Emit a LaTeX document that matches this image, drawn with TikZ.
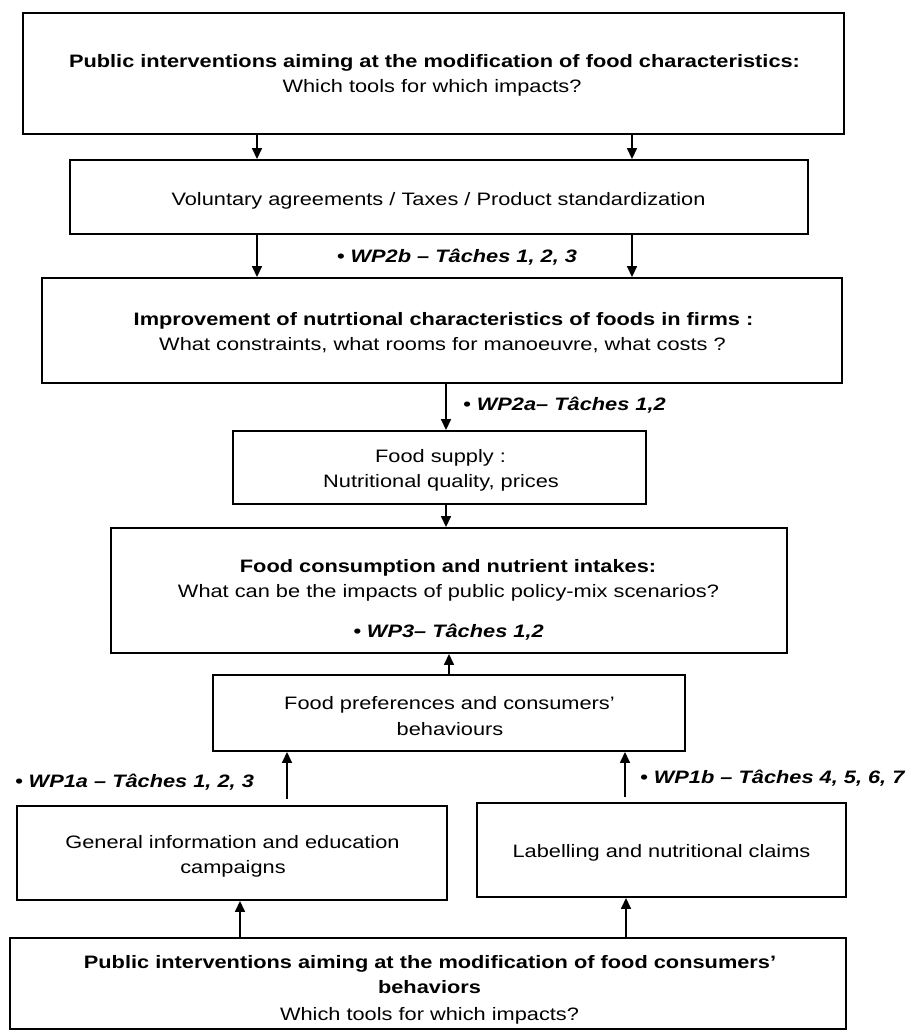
\documentclass[tikz,border=0pt]{standalone}
\usepackage{fontspec}
\setmainfont{Liberation Sans}[FakeStretch=1.21]
\usetikzlibrary{arrows.meta}
\begin{document}
\begin{tikzpicture}[x=1pt,y=-1pt,
  box/.style={draw, line width=1.9pt, inner sep=0pt},
  arr/.style={line width=1.6pt, -{Triangle[length=11pt,width=10pt]}},
  reg/.style={anchor=base, inner sep=0pt, font=\fontsize{18}{25}\selectfont},
  bld/.style={anchor=base, inner sep=0pt, font=\fontsize{18}{25}\selectfont\bfseries},
  lab/.style={anchor=base, inner sep=0pt, font=\fontsize{18}{25}\selectfont\bfseries\itshape}]
\useasboundingbox (0,0) rectangle (906,1031);
% boxes
\node[box, minimum width=821pt, minimum height=121pt] (b1) at (433.5,73.5) {};
\node[box, minimum width=738pt, minimum height=74pt]  (b2) at (439,197) {};
\node[box, minimum width=800pt, minimum height=105pt] (b3) at (442,330.5) {};
\node[box, minimum width=413pt, minimum height=73pt]  (b4) at (439.5,467.5) {};
\node[box, minimum width=676pt, minimum height=125pt] (b5) at (449,590.5) {};
\node[box, minimum width=472pt, minimum height=76pt]  (b6) at (449,713) {};
\node[box, minimum width=430pt, minimum height=94pt]  (b7) at (232,853) {};
\node[box, minimum width=369pt, minimum height=94pt]  (b8) at (661.5,850) {};
\node[box, minimum width=836pt, minimum height=91pt]  (b9) at (428,983.5) {};
% texts
\node[bld] (t1a) at (434.5,67) {Public interventions aiming at the modification of food characteristics:};
\node[reg] (t1b) at (432,92) {Which tools for which impacts?};
\node[reg] (t2a) at (438.5,205) {Voluntary agreements / Taxes / Product standardization};
\node[bld] (t3a) at (443.5,325) {Improvement of nutrtional characteristics of foods in firms :};
\node[reg] (t3b) at (442.5,350) {What constraints, what rooms for manoeuvre, what costs ?};
\node[reg] (t4a) at (440.5,462) {Food supply :};
\node[reg] (t4b) at (441,487) {Nutritional quality, prices};
\node[bld] (t5a) at (448,572) {Food consumption and nutrient intakes:};
\node[reg] (t5b) at (448.5,597) {What can be the impacts of public policy-mix scenarios?};
\node[lab] (t5c) at (448.5,637) {• WP3– Tâches 1,2};
\node[reg] (t6a) at (449.5,709) {Food preferences and consumers’};
\node[reg] (t6b) at (450,735) {behaviours};
\node[reg] (t7a) at (232.5,848) {General information and education};
\node[reg] (t7b) at (233,873) {campaigns};
\node[reg] (t8a) at (661.5,857) {Labelling and nutritional claims};
\node[bld] (t9a) at (430,968) {Public interventions aiming at the modification of food consumers’};
\node[bld] (t9b) at (429.5,993) {behaviors};
\node[reg] (t9c) at (429.5,1020) {Which tools for which impacts?};
% labels
\node[lab] (l1) at (457,262) {• WP2b – Tâches 1, 2, 3};
\node[lab] (l2) at (564.5,410) {• WP2a– Tâches 1,2};
\node[lab] (l4) at (134.5,787) {• WP1a – Tâches 1, 2, 3};
\node[lab, anchor=base west] (l5) at (640,783) {• WP1b – Tâches 4, 5, 6, 7};
% arrow columns
\coordinate (xa) at (257,0);
\coordinate (xb) at (632,0);
\coordinate (xc) at (446,0);
\coordinate (xd) at (449,0);
\coordinate (xe) at (287,0);
\coordinate (xf) at (625,0);
\coordinate (xg) at (240,0);
\coordinate (xh) at (626,0);
% connectors
\draw[arr] (b1.south -| xa) -- (b2.north -| xa);
\draw[arr] (b1.south -| xb) -- (b2.north -| xb);
\draw[arr] (b2.south -| xa) -- (b3.north -| xa);
\draw[arr] (b2.south -| xb) -- (b3.north -| xb);
\draw[arr] (b3.south -| xc) -- (b4.north -| xc);
\draw[arr] (b4.south -| xc) -- (b5.north -| xc);
\draw[arr] (b6.north -| xd) -- (b5.south -| xd);
\draw[arr, shorten <=6pt] (b7.north -| xe) -- (b6.south -| xe);
\draw[arr, shorten <=5pt] (b8.north -| xf) -- (b6.south -| xf);
\draw[arr] (b9.north -| xg) -- (b7.south -| xg);
\draw[arr] (b9.north -| xh) -- (b8.south -| xh);
\end{tikzpicture}
\end{document}
